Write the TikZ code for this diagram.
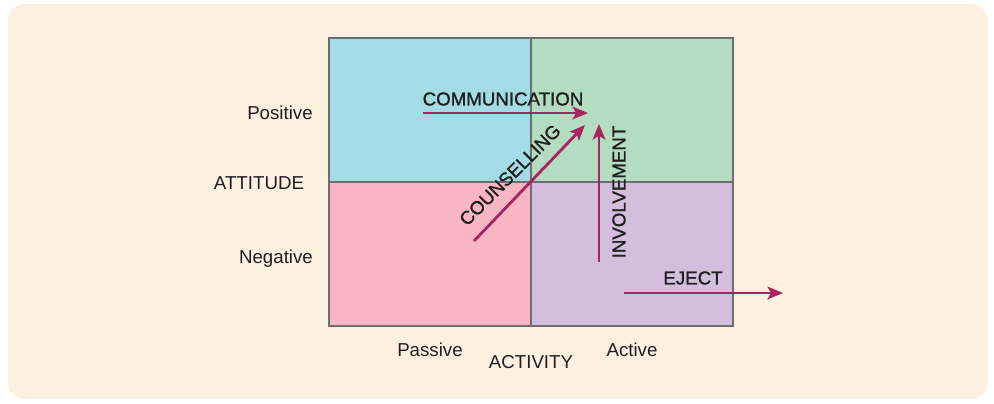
\documentclass[tikz,border=0pt]{standalone}
\usepackage{fontspec}
\setmainfont{Liberation Sans}
\newfontfamily\heavyfont[FakeBold=1.2]{Liberation Sans}
\usetikzlibrary{arrows.meta, positioning}
\definecolor{bgpeach}{HTML}{FEF0E0}
\definecolor{qblue}{HTML}{A3DCE4}
\definecolor{qgreen}{HTML}{B3DCC1}
\definecolor{qpink}{HTML}{F8B5C3}
\definecolor{qpurple}{HTML}{D3BFDD}
\definecolor{arrowred}{HTML}{A8245E}
\definecolor{gridgrey}{HTML}{6E6E72}

\begin{document}
\begin{tikzpicture}[x=0.025cm, y=-0.025cm,
    lbl/.style={font=\fontsize{13.3}{15}\selectfont, text=black!88, inner sep=0},
    movelbl/.style={lbl, font=\heavyfont\fontsize{13.3}{15}\selectfont},
    move/.style={draw=arrowred, line width=2pt, -{Stealth[length=11pt, width=9pt, inset=2.5pt]}}]
      \useasboundingbox (0,0) rectangle (994,403);
      \fill[bgpeach, rounded corners=12] (8,4) rectangle (988,399);
      % quadrants
      \fill[qblue] (329,38) rectangle (531,182);
      \fill[qgreen] (531,38) rectangle (733,182);
      \fill[qpink] (329,182) rectangle (531,326);
      \fill[qpurple] (531,182) rectangle (733,326);
      \draw[gridgrey, line width=0.8pt] (329,38) rectangle (733,326);
      \draw[gridgrey, line width=0.8pt] (531,38) -- (531,326);
      \draw[gridgrey, line width=0.8pt] (329,182) -- (733,182);
      % axis labels
      \node[lbl] (pos) at (280,113) {Positive};
      \node[lbl] (att) at (259,183) {ATTITUDE};
      \node[lbl] (neg) at (276,259) {Negative};
      \node[lbl] (pas) at (430,350) {Passive};
      \node[lbl] (act) at (531,362) {ACTIVITY};
      \node[lbl] (actv) at (632,350) {Active};
      % arrows
      \coordinate (commA) at (423,113);
      \coordinate (commB) at (588,113);
      \coordinate (counA) at (474,241);
      \coordinate (counB) at (585,125);
      \coordinate (invA) at (599,262);
      \coordinate (invB) at (599,124);
      \coordinate (ejA) at (624,293);
      \coordinate (ejB) at (783,293);
      \draw[move] (commA) -- (commB);
      \draw[move] (counA) -- (counB);
      \draw[move] (invA) -- (invB);
      \draw[move] (ejA) -- (ejB);
      \node[movelbl] (comm) at (503,99) {COMMUNICATION};
      \node[movelbl, rotate=45] (coun) at (510,175) {COUNSELLING};
      \node[movelbl, rotate=90] (inv) at (619,192) {INVOLVEMENT};
      \node[movelbl] (ej) at (693,278) {EJECT};
    \end{tikzpicture}
\end{document}
